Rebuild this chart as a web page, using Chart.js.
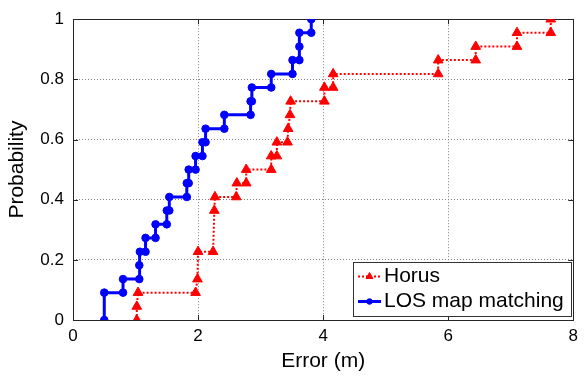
<!DOCTYPE html>
<html>
<head>
<meta charset="utf-8">
<title>Error CDF</title>
<script src="https://cdn.jsdelivr.net/npm/chart.js@4/dist/chart.umd.min.js"></script>
<style>
  html, body { margin: 0; padding: 0; background: #ffffff; }
  #wrap { width: 584px; height: 378px; position: relative; }
</style>
</head>
<body>
<div id="wrap"><canvas id="cdf"></canvas></div>
<script>
// Axis ticks
const xTicks = [0, 2, 4, 6, 8];
const yTicks = [0, 0.2, 0.4, 0.6, 0.8, 1];

// Series names
const seriesNames = ['Horus', 'LOS map matching'];

// Horus: empirical CDF staircase vertices (error in metres, cumulative probability)
const horusError = [1.02, 1.02, 1.04, 1.96, 1.99, 2.00, 2.24, 2.26, 2.27, 2.61, 2.62, 2.77, 2.77,
                    3.17, 3.17, 3.26, 3.26, 3.43, 3.44, 3.47, 3.48, 4.02, 4.02, 4.16, 4.16,
                    5.84, 5.84, 6.44, 6.44, 7.10, 7.10, 7.64, 7.64];
const horusProb  = [0.000, 0.045, 0.091, 0.091, 0.136, 0.227, 0.227, 0.364, 0.409, 0.409, 0.455, 0.455, 0.500,
                    0.500, 0.545, 0.545, 0.591, 0.591, 0.636, 0.682, 0.727, 0.727, 0.773, 0.773, 0.818,
                    0.818, 0.864, 0.864, 0.909, 0.909, 0.955, 0.955, 1.000];

// LOS map matching: empirical CDF staircase vertices
const losError = [0.50, 0.50, 0.80, 0.80, 1.06, 1.06, 1.07, 1.16, 1.16, 1.32, 1.32, 1.50, 1.50,
                  1.54, 1.54, 1.82, 1.82, 1.85, 1.85, 1.96, 1.96, 2.07, 2.07, 2.12, 2.12,
                  2.42, 2.42, 2.84, 2.84, 2.86, 2.86, 3.17, 3.17, 3.51, 3.51, 3.62, 3.62, 3.62,
                  3.81, 3.81];
const losProb  = [0.000, 0.091, 0.091, 0.136, 0.136, 0.182, 0.227, 0.227, 0.273, 0.273, 0.318, 0.318, 0.364,
                  0.364, 0.409, 0.409, 0.455, 0.455, 0.500, 0.500, 0.545, 0.545, 0.591, 0.591, 0.636,
                  0.636, 0.682, 0.682, 0.727, 0.727, 0.773, 0.773, 0.818, 0.818, 0.864, 0.864, 0.909, 0.955,
                  0.955, 1.000];

const FONT = "'Liberation Sans', Arial, Helvetica, sans-serif";
const RED = '#ff0000';
const BLUE = '#0000ff';

const toPoints = (xs, ys) => xs.map((x, i) => ({ x: x, y: ys[i] }));

// Axes box with inward tick marks (drawn beneath the data)
const framePlugin = {
  id: 'frame',
  beforeDatasetsDraw(chart) {
    const { ctx, chartArea: a, scales } = chart;
    ctx.save();
    ctx.strokeStyle = '#262626';
    ctx.lineWidth = 1;
    ctx.beginPath();
    const tl = 5;
    xTicks.forEach(v => {
      const px = Math.round(scales.x.getPixelForValue(v)) + 0.5;
      ctx.moveTo(px, a.bottom); ctx.lineTo(px, a.bottom - tl);
      ctx.moveTo(px, a.top); ctx.lineTo(px, a.top + tl);
    });
    yTicks.forEach(v => {
      const py = Math.round(scales.y.getPixelForValue(v)) + 0.5;
      ctx.moveTo(a.left, py); ctx.lineTo(a.left + tl, py);
      ctx.moveTo(a.right, py); ctx.lineTo(a.right - tl, py);
    });
    ctx.stroke();
    ctx.strokeRect(Math.round(a.left) + 0.5, Math.round(a.top) + 0.5,
                   Math.round(a.right - a.left), Math.round(a.bottom - a.top));
    ctx.restore();
  }
};

// Legend box in the lower right corner of the plot area
const legendBoxPlugin = {
  id: 'legendBox',
  afterDatasetsDraw(chart) {
    const { ctx, chartArea: a } = chart;
    const w = 219, h = 55;
    const x0 = Math.round(a.right - 1 - w), y0 = Math.round(a.bottom - 3 - h);
    ctx.save();
    ctx.fillStyle = '#ffffff';
    ctx.fillRect(x0, y0, w, h);
    ctx.strokeStyle = '#333333';
    ctx.lineWidth = 1;
    ctx.strokeRect(x0 + 0.5, y0 + 0.5, w - 1, h - 1);

    const rows = [y0 + 14.5, y0 + 39.5];
    chart.data.datasets.forEach((ds, i) => {
      const ry = rows[i];
      const cx = x0 + 16.5;
      ctx.save();
      ctx.strokeStyle = ds.borderColor;
      ctx.lineWidth = ds.borderWidth;
      ctx.setLineDash(ds.borderDash || []);
      ctx.beginPath();
      ctx.moveTo(x0 + 5, ry);
      ctx.lineTo(x0 + 28, ry);
      ctx.stroke();
      ctx.restore();

      ctx.fillStyle = ds.pointBackgroundColor;
      ctx.strokeStyle = ds.pointBorderColor;
      ctx.lineWidth = 1;
      ctx.beginPath();
      if (ds.pointStyle === 'triangle') {
        const r = 4;
        ctx.moveTo(cx, ry - r);
        ctx.lineTo(cx + r * 0.866, ry + r * 0.5);
        ctx.lineTo(cx - r * 0.866, ry + r * 0.5);
      } else {
        ctx.arc(cx, ry, 2.8, 0, Math.PI * 2);
      }
      ctx.closePath();
      ctx.fill();
      ctx.stroke();

      ctx.fillStyle = '#000000';
      ctx.font = '21px ' + FONT;
      ctx.textAlign = 'left';
      ctx.textBaseline = 'middle';
      ctx.fillText(ds.label, x0 + 31, ry);
    });
    ctx.restore();
  }
};

const gridStyle = { color: '#808080', lineWidth: 1, drawTicks: false };
const dotted = { display: false, dash: [1, 2] };

new Chart(document.getElementById('cdf'), {
  type: 'scatter',
  data: {
    datasets: [
      {
        label: seriesNames[0],
        data: toPoints(horusError, horusProb),
        showLine: true,
        borderColor: RED,
        borderWidth: 2,
        borderDash: [2, 2],
        tension: 0,
        pointStyle: 'triangle',
        pointRadius: 5.6,
        pointBackgroundColor: RED,
        pointBorderColor: RED,
        pointBorderWidth: 1,
        order: 1
      },
      {
        label: seriesNames[1],
        data: toPoints(losError, losProb),
        showLine: true,
        borderColor: BLUE,
        borderWidth: 3,
        tension: 0,
        pointStyle: 'circle',
        pointRadius: 3.8,
        pointBackgroundColor: BLUE,
        pointBorderColor: BLUE,
        pointBorderWidth: 1,
        order: 0
      }
    ]
  },
  options: {
    responsive: true,
    maintainAspectRatio: false,
    animation: false,
    events: [],
    layout: { padding: { top: 14, right: 7, left: 0, bottom: 0 } },
    plugins: {
      legend: { display: false },
      tooltip: { enabled: false }
    },
    scales: {
      x: {
        type: 'linear',
        min: 0,
        max: 8,
        afterBuildTicks: s => { s.ticks = xTicks.map(v => ({ value: v })); },
        afterFit: s => { s.height = 58; },
        grid: gridStyle,
        border: dotted,
        ticks: {
          color: '#000000',
          padding: 6,
          font: { family: FONT, size: 17 },
          callback: v => String(v)
        },
        title: {
          display: true,
          text: 'Error (m)',
          color: '#000000',
          font: { family: FONT, size: 21 },
          padding: { top: 0, bottom: 4 }
        }
      },
      y: {
        type: 'linear',
        min: 0,
        max: 1,
        afterBuildTicks: s => { s.ticks = yTicks.map(v => ({ value: v })); },
        afterFit: s => { s.width = 73; },
        grid: gridStyle,
        border: dotted,
        ticks: {
          color: '#000000',
          padding: 9,
          font: { family: FONT, size: 17 },
          callback: v => String(v)
        },
        title: {
          display: true,
          text: 'Probability',
          color: '#000000',
          font: { family: FONT, size: 21 },
          padding: { top: 5, bottom: 0 }
        }
      }
    }
  },
  plugins: [framePlugin, legendBoxPlugin]
});
</script>
</body>
</html>
